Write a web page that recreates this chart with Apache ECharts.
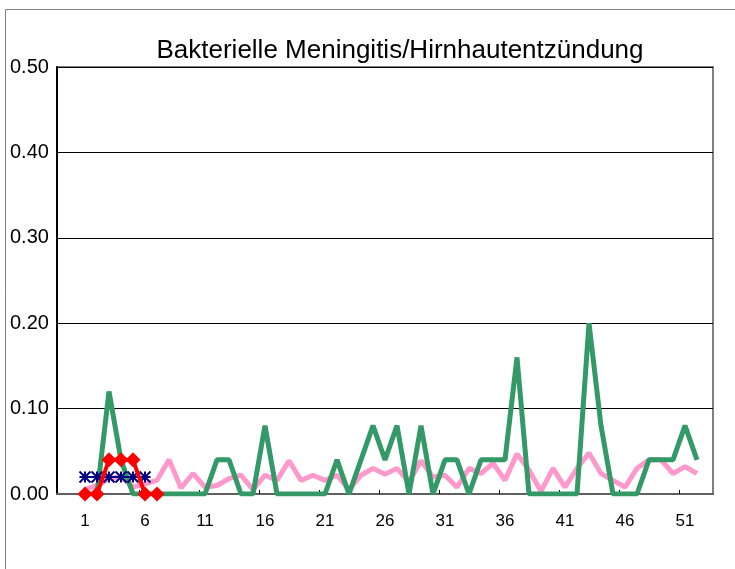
<!DOCTYPE html>
<html style="height: 100%">
  <head>
     <meta charset="utf-8">
  </head>
  <body style="height: 100%; margin: 0; background: #fff">
     <div id="container" style="width: 735px; height: 569px"></div>
     <script type="text/javascript" src="https://cdn.jsdelivr.net/npm/echarts@6/dist/echarts.min.js"></script>
     <script type="text/javascript">
// weeks shown on the x axis
var weekLabels = [1, 6, 11, 16, 21, 26, 31, 36, 41, 46, 51];
var yTicks = [0, 0.1, 0.2, 0.3, 0.4, 0.5];

// green line, weeks 1..52
var green = [0, 0, 0.12, 0.04, 0, 0, 0, 0, 0, 0,
             0, 0.04, 0.04, 0, 0, 0.08, 0, 0, 0, 0,
             0, 0.04, 0, 0.04, 0.08, 0.04, 0.08, 0, 0.08, 0,
             0.04, 0.04, 0, 0.04, 0.04, 0.04, 0.16, 0, 0, 0,
             0, 0, 0.20, 0.08, 0, 0, 0, 0.04, 0.04, 0.04,
             0.08, 0.04];
// pink line, weeks 1..52
var pink = [0.005, 0.01, 0.018, 0.02, 0.008, 0.012, 0.016, 0.04, 0.007, 0.024,
            0.008, 0.01, 0.018, 0.022, 0.005, 0.022, 0.016, 0.039, 0.016, 0.022,
            0.016, 0.022, 0.005, 0.022, 0.03, 0.023, 0.03, 0.014, 0.039, 0.02,
            0.022, 0.008, 0.03, 0.024, 0.036, 0.016, 0.047, 0.028, 0.003, 0.03,
            0.008, 0.03, 0.048, 0.024, 0.016, 0.008, 0.03, 0.04, 0.04, 0.024,
            0.032, 0.024];
// red diamonds, weeks 1..7
var red = [0, 0, 0.04, 0.04, 0.04, 0, 0];
// blue stars, weeks 1..6
var blue = [0.02, 0.02, 0.02, 0.02, 0.02, 0.02];

function pairs(arr) {
  return arr.map(function (v, i) { return [i + 1, v]; });
}

var tickPos = [];
for (var i = 5.5; i < 53; i += 5) tickPos.push(i);

var dom = document.getElementById("container");
var myChart = echarts.init(dom);
var font = 'Liberation Sans';

var option = {
  animation: false,
  backgroundColor: '#fff',
  title: {
    text: 'Bakterielle Meningitis/Hirnhautentzündung',
    left: 395,
    top: 33,
    textAlign: 'center',
    textStyle: { fontFamily: font, fontWeight: 'normal', fontSize: 26, color: '#000' }
  },
  graphic: [{
    type: 'rect',
    shape: { x: 5.5, y: 9.5, width: 800, height: 800 },
    style: { fill: 'none', stroke: '#808080', lineWidth: 1 },
    silent: true
  }],
  grid: {
    left: 57, right: 22, top: 67, bottom: 75,
    show: true, borderColor: '#808080', borderWidth: 2, backgroundColor: '#fff'
  },
  xAxis: {
    type: 'value',
    min: -4 / 3,
    max: 160 / 3,
    axisLine: { show: true, onZero: false, lineStyle: { color: '#606060', width: 2 } },
    axisTick: { show: true, inside: true, length: 4, customValues: tickPos, lineStyle: { color: '#000' } },
    axisLabel: { customValues: weekLabels, margin: 19, fontFamily: font, fontSize: 17, color: '#000' },
    splitLine: { show: false }
  },
  yAxis: {
    type: 'value',
    min: 0,
    max: 0.5,
    interval: 0.1,
    axisLine: { show: true, onZero: false, lineStyle: { color: '#000', width: 2 } },
    axisTick: { show: false },
    axisLabel: {
      align: 'left', margin: 47, fontFamily: font, fontSize: 20, color: '#000',
      formatter: function (v) { return v.toFixed(2); }
    },
    splitLine: { show: true, lineStyle: { color: '#000', width: 1 } }
  },
  series: [
    {
      name: 'pink', type: 'line', data: pairs(pink), symbol: 'none',
      lineStyle: { color: '#FF99CC', width: 5 }, z: 2
    },
    {
      name: 'green', type: 'line', data: pairs(green), symbol: 'none',
      lineStyle: { color: '#339966', width: 5 }, z: 3
    },
    {
      name: 'blue', type: 'line', data: pairs(blue),
      symbol: 'path://M0,0L10,10M10,0L0,10M5,0L5,10M0,5L10,5', symbolSize: 11,
      itemStyle: { color: 'none', borderColor: '#000080', borderWidth: 2 },
      lineStyle: { color: '#000080', width: 2 }, z: 4
    },
    {
      name: 'red', type: 'line', data: pairs(red),
      symbol: 'diamond', symbolSize: 15,
      itemStyle: { color: '#FF0000' },
      lineStyle: { color: '#FF0000', width: 4 }, z: 5
    }
  ]
};
myChart.setOption(option, true);
     </script>
   </body>
</html>
